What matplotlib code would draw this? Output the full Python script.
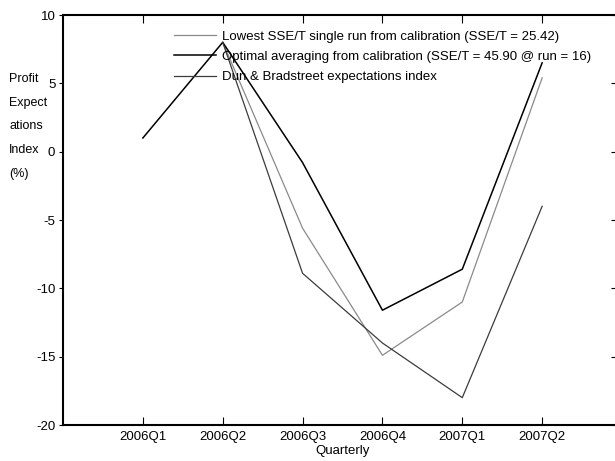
import matplotlib
matplotlib.use("Agg")
import matplotlib.pyplot as plt

plt.rcParams['font.family'] = ['Liberation Sans', 'DejaVu Sans']
plt.rcParams['axes.unicode_minus'] = False

quarters = ['2006Q1', '2006Q2', '2006Q3', '2006Q4', '2007Q1', '2007Q2']
# series values (%), None where no value
lowest_run = [None, 8.0, -5.6, -14.9, -11.0, 5.4]
optimal_avg = [1.0, 8.0, -0.8, -11.6, -8.6, 6.5]
dnb_index = [None, 8.0, -8.9, -14.0, -18.0, -4.0]

def pts(vals):
    xs = [i for i, v in enumerate(vals) if v is not None]
    ys = [v for v in vals if v is not None]
    return xs, ys

fs = 9.5
fig = plt.figure(figsize=(6.15, 4.61), dpi=100)
ax = fig.add_axes([63/615, 36/461, 559/615, 410/461])

x, y = pts(lowest_run)
ax.plot(x, y, color='#8a8a8a', lw=0.9,
        label='Lowest SSE/T single run from calibration (SSE/T = 25.42)')
x, y = pts(optimal_avg)
ax.plot(x, y, color='black', lw=1.1,
        label='Optimal averaging from calibration (SSE/T = 45.90 @ run = 16)')
x, y = pts(dnb_index)
ax.plot(x, y, color='#3c3c3c', lw=0.9,
        label='Dun & Bradstreet expectations index')

ax.set_xlim(-1, 6)
ax.set_ylim(-20, 10)
ax.set_yticks([-20, -15, -10, -5, 0, 5, 10])
ax.set_xticks(range(len(quarters)))
ax.set_xticklabels(quarters)
ax.tick_params(axis='x', direction='in', top=True, length=6, labelsize=fs, pad=4)
ax.tick_params(axis='y', direction='out', length=3, labelsize=fs, pad=2.5,
               right=True)
# short inward marks on the right side
for t in ax.yaxis.get_ticklines()[1::2]:
    t.set_marker(0)
    t.set_markersize(8)

for s in ['left', 'bottom', 'top']:
    ax.spines[s].set_linewidth(1.5)
ax.spines['right'].set_visible(False)

ax.set_xlabel('Quarterly', fontsize=fs, labelpad=2)
fig.text(9/615, 1 - 73/461, 'Profit\nExpect\nations\nIndex\n(%)', fontsize=9,
         va='top', ha='left', linespacing=2.3)

ax.legend(loc='upper left', bbox_to_anchor=(104/559, 0.978), frameon=False,
          fontsize=fs, handlelength=3.25, handletextpad=0.45, labelspacing=0.6,
          borderpad=0)

fig.savefig('out.png', dpi=100)
